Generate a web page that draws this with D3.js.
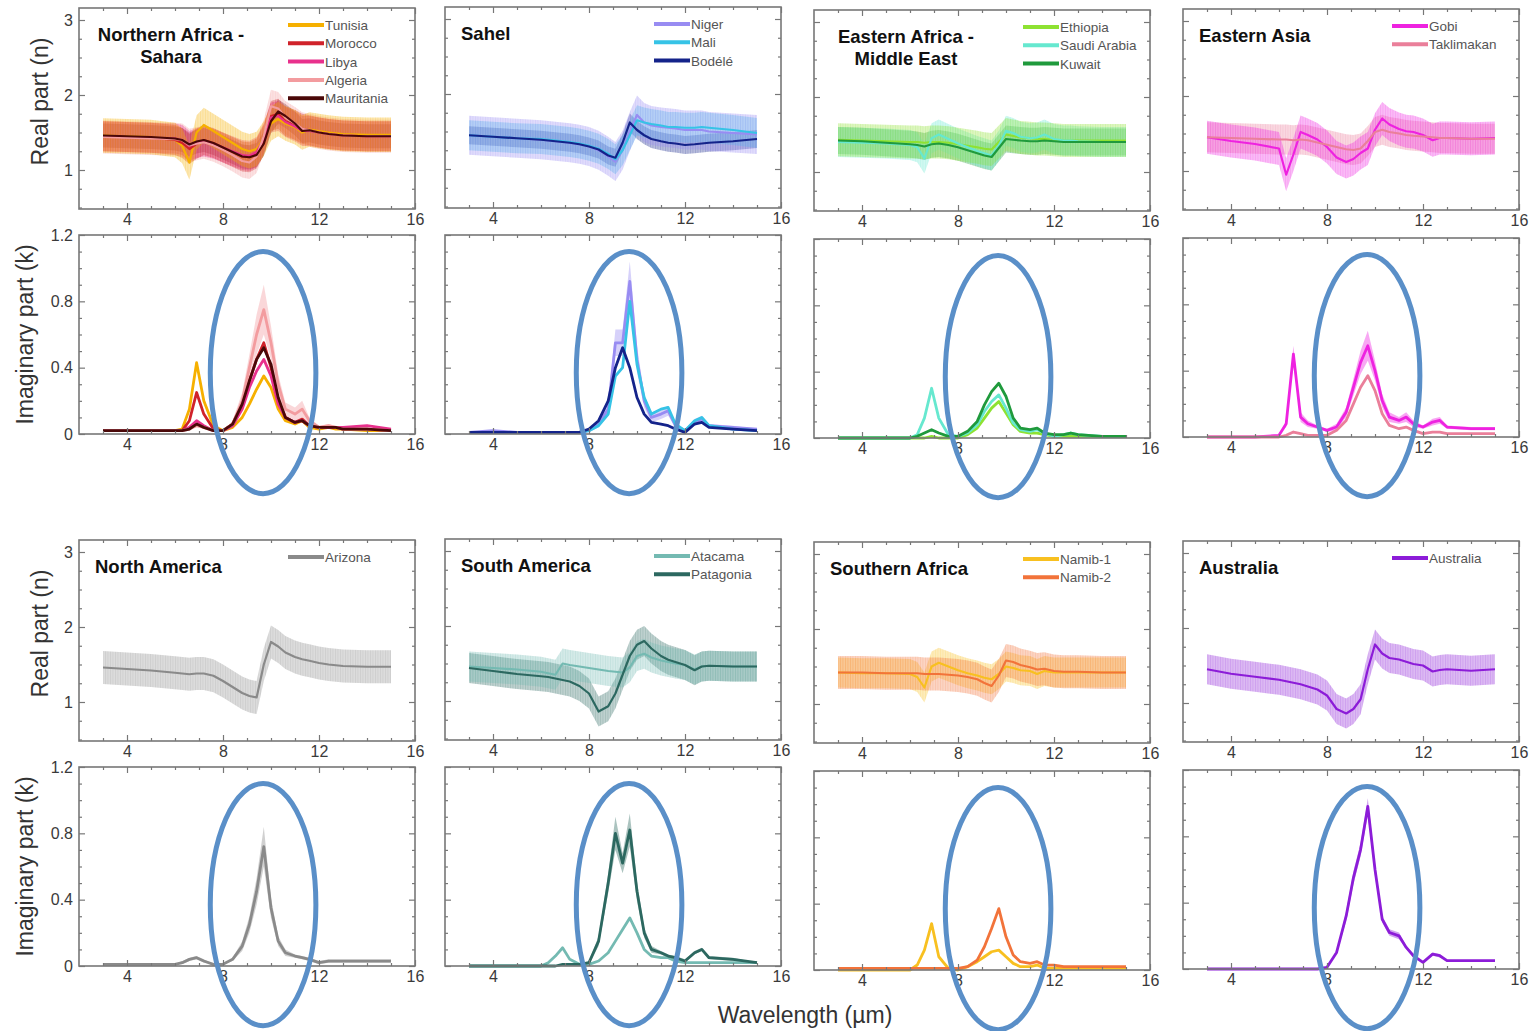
<!DOCTYPE html>
<html>
<head>
<meta charset="utf-8">
<script src="https://cdn.jsdelivr.net/npm/d3@7"></script>
<style>
  body { margin: 0; background: #fff; }
  svg { font-family: "Liberation Sans", Arial, sans-serif; }
</style>
</head>
<body>
<script>
// Wavelength grid (µm) shared by every series
const wavelength = [3, 4, 5, 6, 6.3, 6.6, 6.9, 7.2, 7.6, 8, 8.4, 8.8, 9.1, 9.4, 9.7, 10, 10.3, 10.6, 11, 11.3, 11.6, 12, 12.4, 12.7, 13, 14, 15];

// Northern Africa - Sahara
const tunisiaN = [1.46,1.45,1.44,1.40,1.32,1.10,1.50,1.60,1.52,1.44,1.36,1.28,1.25,1.28,1.42,1.62,1.68,1.62,1.57,1.50,1.54,1.52,1.50,1.49,1.48,1.47,1.47];
const tunisiaK = [0.02,0.02,0.02,0.02,0.03,0.15,0.43,0.20,0.05,0.02,0.04,0.10,0.18,0.27,0.35,0.28,0.15,0.08,0.06,0.08,0.04,0.03,0.04,0.03,0.03,0.02,0.02];
const moroccoN = [1.45,1.44,1.43,1.40,1.36,1.28,1.35,1.40,1.36,1.30,1.24,1.18,1.17,1.22,1.40,1.72,1.75,1.65,1.60,1.55,1.53,1.50,1.48,1.47,1.46,1.45,1.45];
const moroccoK = [0.02,0.02,0.02,0.02,0.02,0.08,0.25,0.12,0.03,0.02,0.06,0.18,0.32,0.45,0.55,0.40,0.20,0.10,0.07,0.09,0.05,0.04,0.04,0.04,0.03,0.03,0.02];
const libyaN = [1.45,1.44,1.43,1.42,1.40,1.32,1.36,1.38,1.35,1.30,1.25,1.20,1.19,1.24,1.42,1.70,1.72,1.64,1.58,1.52,1.52,1.50,1.48,1.47,1.46,1.45,1.45];
const libyaK = [0.02,0.02,0.02,0.02,0.02,0.04,0.08,0.05,0.02,0.02,0.05,0.15,0.28,0.38,0.45,0.35,0.18,0.10,0.07,0.08,0.05,0.04,0.04,0.04,0.04,0.05,0.03];
const algeriaN = [1.44,1.43,1.42,1.41,1.40,1.33,1.35,1.37,1.33,1.27,1.20,1.12,1.10,1.18,1.45,1.85,1.82,1.70,1.62,1.55,1.53,1.50,1.48,1.47,1.46,1.45,1.45];
const algeriaK = [0.02,0.02,0.02,0.02,0.02,0.03,0.05,0.04,0.02,0.02,0.06,0.20,0.40,0.60,0.75,0.55,0.30,0.15,0.12,0.15,0.08,0.04,0.05,0.04,0.03,0.03,0.02];
const algeriaKErr = [0,0,0,0,0,0,0.01,0.01,0,0,0.02,0.05,0.08,0.12,0.15,0.10,0.06,0.04,0.04,0.05,0.02,0.01,0.01,0.01,0.01,0.01,0];
const mauritaniaN = [1.46,1.45,1.44,1.42,1.40,1.34,1.38,1.40,1.36,1.30,1.24,1.18,1.17,1.20,1.35,1.65,1.78,1.72,1.62,1.52,1.53,1.50,1.48,1.47,1.46,1.45,1.45];
const mauritaniaK = [0.02,0.02,0.02,0.02,0.02,0.03,0.06,0.04,0.02,0.02,0.06,0.18,0.32,0.45,0.52,0.42,0.22,0.10,0.07,0.08,0.05,0.04,0.04,0.04,0.03,0.03,0.02];

// Sahel
const nigerN = [1.45,1.43,1.41,1.39,1.38,1.37,1.36,1.35,1.33,1.30,1.25,1.17,1.10,1.25,1.50,1.72,1.62,1.58,1.56,1.55,1.54,1.52,1.52,1.52,1.50,1.48,1.46];
const nigerK = [0.01,0.02,0.01,0.01,0.01,0.01,0.01,0.01,0.01,0.02,0.06,0.15,0.55,0.55,0.92,0.45,0.20,0.10,0.12,0.14,0.05,0.02,0.07,0.09,0.05,0.04,0.03];
const nigerKErr = [0,0,0,0,0,0,0,0,0,0.01,0.02,0.04,0.08,0.08,0.12,0.08,0.04,0.03,0.03,0.03,0.01,0.01,0.02,0.02,0.01,0.01,0];
const maliN = [1.45,1.43,1.41,1.40,1.39,1.38,1.37,1.36,1.34,1.31,1.27,1.20,1.13,1.25,1.45,1.65,1.62,1.60,1.58,1.56,1.56,1.55,1.55,1.56,1.55,1.52,1.48];
const maliK = [0.01,0.01,0.01,0.01,0.01,0.01,0.01,0.01,0.01,0.02,0.05,0.12,0.35,0.40,0.80,0.42,0.22,0.12,0.15,0.16,0.06,0.02,0.08,0.10,0.05,0.03,0.02];
const bodeleN = [1.45,1.43,1.41,1.39,1.38,1.37,1.36,1.35,1.33,1.30,1.26,1.18,1.15,1.35,1.62,1.52,1.45,1.40,1.37,1.35,1.34,1.32,1.33,1.34,1.35,1.37,1.40];
const bodeleK = [0.01,0.01,0.01,0.01,0.01,0.01,0.01,0.01,0.01,0.03,0.08,0.20,0.40,0.52,0.40,0.22,0.12,0.07,0.06,0.05,0.03,0.01,0.06,0.07,0.04,0.03,0.02];

// Eastern Africa - Middle East
const ethiopiaN = [1.43,1.42,1.41,1.40,1.40,1.39,1.40,1.40,1.39,1.37,1.35,1.33,1.31,1.30,1.40,1.50,1.48,1.46,1.45,1.44,1.44,1.43,1.42,1.42,1.42,1.42,1.42];
const ethiopiaK = [0,0,0,0,0,0,0.01,0,0,0,0.02,0.06,0.12,0.18,0.22,0.15,0.08,0.04,0.03,0.03,0.02,0.01,0.01,0.01,0.01,0.01,0.01];
const saudiN = [1.40,1.39,1.38,1.36,1.33,1.18,1.45,1.50,1.44,1.38,1.33,1.28,1.25,1.22,1.35,1.55,1.52,1.47,1.45,1.46,1.50,1.44,1.42,1.42,1.41,1.40,1.40];
const saudiK = [0,0,0,0,0.02,0.12,0.30,0.12,0.02,0.01,0.03,0.08,0.16,0.22,0.26,0.18,0.09,0.05,0.04,0.05,0.03,0.01,0.02,0.03,0.02,0.01,0.01];
const kuwaitN = [1.42,1.41,1.39,1.37,1.36,1.34,1.37,1.38,1.36,1.33,1.29,1.25,1.22,1.20,1.32,1.44,1.43,1.42,1.41,1.41,1.42,1.41,1.40,1.40,1.40,1.40,1.40];
const kuwaitK = [0,0,0,0,0.01,0.03,0.05,0.03,0.01,0.01,0.04,0.10,0.20,0.28,0.33,0.25,0.12,0.06,0.05,0.06,0.03,0.02,0.02,0.03,0.02,0.01,0.01];

// Eastern Asia
const gobiN = [1.45,1.40,1.36,1.30,0.95,1.22,1.52,1.48,1.42,1.32,1.18,1.12,1.16,1.24,1.30,1.55,1.70,1.62,1.56,1.53,1.52,1.48,1.41,1.44,1.44,1.43,1.44];
const gobiK = [0,0,0,0.01,0.08,0.50,0.12,0.08,0.06,0.04,0.06,0.15,0.30,0.45,0.55,0.40,0.22,0.12,0.10,0.12,0.08,0.06,0.09,0.10,0.06,0.05,0.05];
const gobiKErr = [0,0,0,0,0.02,0.05,0.03,0.02,0.01,0.01,0.02,0.03,0.05,0.07,0.09,0.06,0.04,0.03,0.02,0.03,0.02,0.01,0.02,0.02,0.01,0.01,0.01];
const taklimakanN = [1.45,1.44,1.43,1.42,1.42,1.41,1.42,1.41,1.38,1.35,1.32,1.29,1.28,1.30,1.40,1.52,1.55,1.52,1.50,1.48,1.47,1.46,1.45,1.44,1.44,1.43,1.43];
const taklimakanK = [0,0,0,0,0.01,0.03,0.02,0.01,0.01,0.01,0.04,0.10,0.20,0.30,0.37,0.28,0.14,0.07,0.05,0.06,0.04,0.02,0.03,0.03,0.02,0.02,0.02];

// North America
const arizonaN = [1.46,1.44,1.42,1.39,1.38,1.37,1.38,1.38,1.35,1.28,1.20,1.12,1.08,1.06,1.50,1.80,1.74,1.66,1.60,1.57,1.55,1.52,1.50,1.49,1.48,1.47,1.47];
const arizonaK = [0.01,0.01,0.01,0.01,0.02,0.04,0.05,0.03,0.01,0.01,0.04,0.12,0.25,0.45,0.72,0.35,0.15,0.08,0.06,0.05,0.04,0.02,0.03,0.03,0.03,0.03,0.03];
const arizonaKErr = [0,0,0,0,0.01,0.01,0.01,0.01,0,0,0.01,0.03,0.05,0.08,0.12,0.06,0.03,0.02,0.01,0.01,0.01,0.01,0.01,0.01,0.01,0.01,0.01];

// South America
const atacamaN = [1.46,1.44,1.42,1.39,1.37,1.35,1.50,1.48,1.46,1.44,1.42,1.40,1.39,1.38,1.45,1.60,1.63,1.58,1.54,1.52,1.50,1.48,1.42,1.46,1.47,1.46,1.46];
const atacamaK = [0,0,0,0,0.02,0.06,0.11,0.04,0.01,0.01,0.03,0.08,0.15,0.22,0.29,0.20,0.10,0.06,0.05,0.05,0.03,0.02,0.02,0.02,0.02,0.02,0.02];
const patagoniaN = [1.44,1.40,1.36,1.33,1.32,1.30,1.28,1.26,1.20,1.10,0.86,0.93,1.10,1.35,1.60,1.75,1.80,1.70,1.60,1.55,1.52,1.48,1.41,1.46,1.47,1.46,1.46];
const patagoniaK = [0,0,0,0,0,0,0.01,0.01,0.01,0.02,0.15,0.50,0.80,0.62,0.82,0.45,0.20,0.10,0.08,0.06,0.05,0.03,0.08,0.10,0.05,0.04,0.02];
const patagoniaKErr = [0,0,0,0,0,0,0,0,0,0.01,0.03,0.06,0.10,0.06,0.10,0.06,0.03,0.02,0.01,0.01,0.01,0.01,0.01,0.01,0.01,0.01,0];

// Southern Africa
const namib1N = [1.42,1.41,1.41,1.40,1.36,1.22,1.50,1.55,1.50,1.45,1.41,1.38,1.35,1.33,1.40,1.50,1.48,1.45,1.44,1.40,1.44,1.42,1.42,1.42,1.42,1.42,1.42];
const namib1K = [0,0,0,0,0.03,0.12,0.28,0.08,0.01,0,0.02,0.05,0.08,0.11,0.12,0.08,0.04,0.02,0.02,0.03,0.01,0.01,0.01,0.01,0.01,0.01,0.01];
const namib2N = [1.42,1.42,1.41,1.41,1.41,1.40,1.40,1.40,1.39,1.38,1.36,1.33,1.28,1.24,1.38,1.58,1.56,1.52,1.49,1.46,1.47,1.44,1.43,1.43,1.43,1.42,1.42];
const namib2K = [0.01,0.01,0.01,0.01,0.01,0.01,0.01,0.01,0.01,0.01,0.02,0.06,0.14,0.25,0.37,0.20,0.09,0.05,0.04,0.05,0.03,0.03,0.02,0.02,0.02,0.02,0.02];

// Australia
const australiaN = [1.45,1.39,1.35,1.31,1.29,1.27,1.25,1.22,1.18,1.10,0.92,0.86,0.92,1.05,1.45,1.78,1.66,1.60,1.58,1.55,1.52,1.50,1.42,1.44,1.45,1.43,1.45];
const australiaK = [0,0,0,0,0,0,0,0,0,0.01,0.10,0.32,0.55,0.72,0.98,0.60,0.30,0.22,0.20,0.13,0.08,0.04,0.09,0.08,0.05,0.05,0.05];
const australiaKErr = [0,0,0,0,0,0,0,0,0,0,0.01,0.03,0.04,0.04,0.05,0.04,0.02,0.02,0.02,0.01,0.01,0,0.01,0.01,0,0,0];

// Axis ticks
const xMajor = [4, 8, 12, 16];
const xMinor = [3, 5, 6, 7, 9, 10, 11, 13, 14, 15];
const nMajor = [1, 2, 3];
const nMinor = [0.5, 0.75, 1.25, 1.5, 1.75, 2.25, 2.5, 2.75];
const kMajor = [0, 0.4, 0.8, 1.2];
const kMinor = [0.1, 0.2, 0.3, 0.5, 0.6, 0.7, 0.9, 1.0, 1.1];

// Highlight ellipse on the silicate band (centre and radii in data units)
const ellipseCenter = [9.67, 0.37];
const ellipseRadii = [2.2, 0.73];

const regions = [
  { title: ["Northern Africa -", "Sahara"], center: true, series: [
    { name: "Tunisia", color: "#f6b000", n: tunisiaN, k: tunisiaK, nErr: 0.23 },
    { name: "Morocco", color: "#d0222a", n: moroccoN, k: moroccoK, nErr: 0.2 },
    { name: "Libya", color: "#e8308c", n: libyaN, k: libyaK, nErr: 0.2 },
    { name: "Algeria", color: "#f39c9f", n: algeriaN, k: algeriaK, nErr: 0.22, kErr: algeriaKErr },
    { name: "Mauritania", color: "#4a0808", n: mauritaniaN, k: mauritaniaK, nErr: 0.16 } ] },
  { title: ["Sahel"], series: [
    { name: "Niger", color: "#988cf2", n: nigerN, k: nigerK, nErr: 0.26, kErr: nigerKErr },
    { name: "Mali", color: "#36c3e6", n: maliN, k: maliK, nErr: 0.2 },
    { name: "Bodélé", color: "#14238a", n: bodeleN, k: bodeleK, nErr: 0.12 } ] },
  { title: ["Eastern Africa -", "Middle East"], center: true, series: [
    { name: "Ethiopia", color: "#8ee232", n: ethiopiaN, k: ethiopiaK, nErr: 0.22 },
    { name: "Saudi Arabia", color: "#66e8cf", n: saudiN, k: saudiK, nErr: 0.2 },
    { name: "Kuwait", color: "#1f9a3c", n: kuwaitN, k: kuwaitK, nErr: 0.18 } ] },
  { title: ["Eastern Asia"], series: [
    { name: "Gobi", color: "#ee22e0", n: gobiN, k: gobiK, nErr: 0.22, kErr: gobiKErr },
    { name: "Taklimakan", color: "#ea7f9a", n: taklimakanN, k: taklimakanK, nErr: 0.2 } ] },
  { title: ["North America"], series: [
    { name: "Arizona", color: "#8a8a8a", n: arizonaN, k: arizonaK, nErr: 0.22, kErr: arizonaKErr } ] },
  { title: ["South America"], series: [
    { name: "Atacama", color: "#74bab2", n: atacamaN, k: atacamaK, nErr: 0.2 },
    { name: "Patagonia", color: "#2c6860", n: patagoniaN, k: patagoniaK, nErr: 0.2, kErr: patagoniaKErr } ] },
  { title: ["Southern Africa"], bandForward: true, series: [
    { name: "Namib-1", color: "#f8c020", n: namib1N, k: namib1K, nErr: 0.2 },
    { name: "Namib-2", color: "#f2733a", n: namib2N, k: namib2K, nErr: 0.22 } ] },
  { title: ["Australia"], series: [
    { name: "Australia", color: "#8c1cd8", n: australiaN, k: australiaK, nErr: 0.2, kErr: australiaKErr } ] }
];

const svg = d3.select("body").append("svg").attr("width", 1529).attr("height", 1031);
const defs = svg.append("defs");

const colLeft = [79, 445, 814, 1183];
const panelW = 336;
const realOff = [0, -1, 2, 1];
const imagOff = [0, 0, 4, 3];
const rowShift = 532;
const frameColor = "#777";

// fine vertical hatching that mimics the dense error bars of the real-part bands
function hatch(id, color) {
  const p = defs.append("pattern")
    .attr("id", id).attr("patternUnits", "userSpaceOnUse")
    .attr("width", 2.5).attr("height", 10);
  p.append("line").attr("x1", 0.5).attr("x2", 0.5).attr("y1", 0).attr("y2", 10)
    .attr("stroke", color).attr("stroke-width", 0.8).attr("stroke-opacity", 0.22);
  return `url(#${id})`;
}

function drawFrame(x, y, major, minor, showLabels) {
  const g = svg.append("g");
  const [x0, x1] = x.range();
  const [y0, y1] = y.range();
  const axes = [
    [d3.axisBottom(x).tickValues(xMajor).tickSize(-6).tickPadding(5), `translate(0,${y0})`],
    [d3.axisBottom(x).tickValues(xMinor).tickSize(-3).tickFormat(""), `translate(0,${y0})`],
    [d3.axisTop(x).tickValues(xMajor).tickSize(-6).tickFormat(""), `translate(0,${y1})`],
    [d3.axisTop(x).tickValues(xMinor).tickSize(-3).tickFormat(""), `translate(0,${y1})`],
    [d3.axisLeft(y).tickValues(major).tickSize(-6).tickPadding(6).tickFormat(showLabels ? d3.format("") : ""), `translate(${x0},0)`],
    [d3.axisLeft(y).tickValues(minor).tickSize(-3).tickFormat(""), `translate(${x0},0)`],
    [d3.axisRight(y).tickValues(major).tickSize(-6).tickFormat(""), `translate(${x1},0)`],
    [d3.axisRight(y).tickValues(minor).tickSize(-3).tickFormat(""), `translate(${x1},0)`]
  ];
  axes.forEach(([axis, tr]) => {
    const a = g.append("g").attr("transform", tr).call(axis);
    a.select(".domain").remove();
    a.selectAll("line").attr("stroke", frameColor).attr("stroke-width", 1.2);
    a.selectAll("text").attr("fill", "#3a3a3a").style("font-size", "16px");
  });
  g.append("rect")
    .attr("x", x0).attr("y", y1)
    .attr("width", x1 - x0).attr("height", y0 - y1)
    .attr("fill", "none").attr("stroke", frameColor).attr("stroke-width", 1.6);
  return g;
}

regions.forEach((reg, i) => {
  const col = i % 4, row = Math.floor(i / 4);
  const left = colLeft[col];
  const x = d3.scaleLinear().domain([2, 16]).range([left, left + panelW]);
  const yN = d3.scaleLinear().domain([0.48, 3.16])
    .range([209 + row * rowShift + realOff[col], 8 + row * rowShift + realOff[col]]);
  const yK = d3.scaleLinear().domain([0, 1.2])
    .range([434 + row * rowShift + imagOff[col], 235 + row * rowShift + imagOff[col]]);

  const pts = (s, key) => wavelength.map((w, j) => ({ w, v: s[key][j], e: s.kErr ? s.kErr[j] : 0 }));

  // ---- Real part panel ----
  const gN = svg.append("g");
  const bandOrder = reg.bandForward ? reg.series.slice() : reg.series.slice().reverse();
  bandOrder.forEach((s, j) => {
    const band = d3.area().x(d => x(d.w)).y0(d => yN(d.v - s.nErr)).y1(d => yN(d.v + s.nErr));
    gN.append("path")
      .datum(pts(s, "n"))
      .attr("fill", s.color).attr("fill-opacity", 0.3)
      .attr("d", band);
    gN.append("path")
      .datum(pts(s, "n"))
      .attr("fill", hatch(`h${i}_${j}`, s.color))
      .attr("d", band);
  });
  reg.series.forEach(s => {
    gN.append("path")
      .datum(pts(s, "n"))
      .attr("fill", "none").attr("stroke", s.color).attr("stroke-width", 2.2)
      .attr("stroke-linejoin", "round")
      .attr("d", d3.line().x(d => x(d.w)).y(d => yN(d.v)));
  });
  drawFrame(x, yN, nMajor, nMinor, col === 0);

  // title
  const top = yN.range()[1];
  reg.title.forEach((t, j) => {
    svg.append("text")
      .attr("x", reg.center ? left + 92 : left + 16)
      .attr("y", top + 33 + j * 22)
      .attr("text-anchor", reg.center ? "middle" : "start")
      .style("font-size", "18.5px").style("font-weight", "bold")
      .attr("fill", "#111")
      .text(t);
  });

  // legend
  reg.series.forEach((s, j) => {
    const ly = top + 17 + j * 18.3;
    svg.append("line")
      .attr("x1", left + 209).attr("x2", left + 245)
      .attr("y1", ly).attr("y2", ly)
      .attr("stroke", s.color).attr("stroke-width", 4);
    svg.append("text")
      .attr("x", left + 246).attr("y", ly + 5)
      .style("font-size", "13.5px").attr("fill", "#555")
      .text(s.name);
  });

  // ---- Imaginary part panel ----
  const gK = svg.append("g");
  reg.series.forEach(s => {
    if (!s.kErr) return;
    gK.append("path")
      .datum(pts(s, "k"))
      .attr("fill", s.color).attr("fill-opacity", 0.4)
      .attr("d", d3.area().x(d => x(d.w)).y0(d => yK(Math.max(0, d.v - d.e))).y1(d => yK(d.v + d.e)));
  });
  reg.series.forEach(s => {
    gK.append("path")
      .datum(pts(s, "k"))
      .attr("fill", "none").attr("stroke", s.color).attr("stroke-width", 2.8)
      .attr("stroke-linejoin", "round")
      .attr("d", d3.line().x(d => x(d.w)).y(d => yK(d.v)));
  });
  drawFrame(x, yK, kMajor, kMinor, col === 0);

  svg.append("ellipse")
    .attr("cx", x(ellipseCenter[0]))
    .attr("cy", yK(ellipseCenter[1]))
    .attr("rx", x(ellipseCenter[0] + ellipseRadii[0]) - x(ellipseCenter[0]))
    .attr("ry", yK(0) - yK(ellipseRadii[1]))
    .attr("fill", "none").attr("stroke", "#5a8fc8").attr("stroke-width", 5);

  if (col === 0) {
    const yMidN = (yN.range()[0] + yN.range()[1]) / 2;
    const yMidK = (yK.range()[0] + yK.range()[1]) / 2;
    svg.append("text")
      .attr("transform", `translate(48,${yMidN - 7}) rotate(-90)`)
      .attr("text-anchor", "middle").style("font-size", "23px").attr("fill", "#333")
      .text("Real part (n)");
    svg.append("text")
      .attr("transform", `translate(33,${yMidK}) rotate(-90)`)
      .attr("text-anchor", "middle").style("font-size", "23px").attr("fill", "#333")
      .text("Imaginary part (k)");
  }
});

svg.append("text")
  .attr("x", 805).attr("y", 1023)
  .attr("text-anchor", "middle").style("font-size", "23px").attr("fill", "#333")
  .text("Wavelength (µm)");
</script>
</body>
</html>
